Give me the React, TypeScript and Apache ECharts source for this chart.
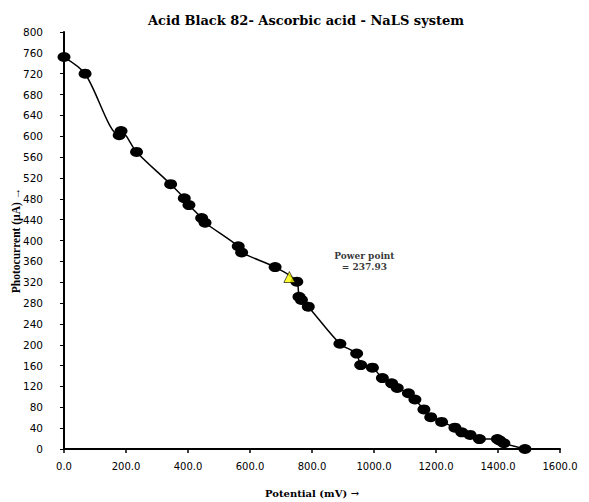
import React, { useEffect, useRef } from 'react';
import * as echarts from 'echarts';

const titleText = 'Acid Black 82- Ascorbic acid - NaLS system';
const xAxisName = 'Potential (mV) →';
const yAxisName = 'Photocurrent (µA) →';

const potential = [0, 68, 178, 184, 234, 344, 388, 403, 444, 455, 562, 573, 681, 751, 758, 766, 788, 890, 944, 957, 995, 1027, 1057, 1075, 1111, 1132, 1161, 1183, 1218, 1261, 1283, 1310, 1340, 1398, 1406, 1419, 1487];
const photocurrent = [752, 720, 602, 610, 570, 508, 481, 468, 443, 434, 389, 377, 349, 321, 292, 286, 273, 202, 183, 161, 156, 136, 126, 117, 107, 95, 76, 61, 52, 41, 32, 27, 19, 19, 16, 11, 0];

const powerPointPotential = 727;
const powerPointCurrent = 330;
const powerPointLabel = 'Power point\n= 237.93';

const xMin = 0;
const xMax = 1600;
const xInterval = 200;
const yMin = 0;
const yMax = 800;
const yInterval = 40;

export default function App() {
  const ref = useRef<HTMLDivElement>(null);
  useEffect(() => {
    const chart = echarts.init(ref.current!, null, { renderer: 'svg' });
    const points = potential.map((p, i) => [p, photocurrent[i]]);
    chart.setOption({
      animation: false,
      backgroundColor: '#ffffff',
      title: {
        text: titleText,
        left: 301,
        top: 9,
        textAlign: 'center',
        textStyle: { fontFamily: '"DejaVu Serif"', fontWeight: 'bold', fontSize: 13, color: '#000' },
      },
      grid: { left: 64, top: 32, right: 29, bottom: 53, containLabel: false, outerBoundsMode: 'none' },
      xAxis: {
        type: 'value',
        min: xMin,
        max: xMax,
        interval: xInterval,
        name: xAxisName,
        nameLocation: 'middle',
        nameGap: 39,
        nameMoveOverlap: false,
        nameTextStyle: { fontFamily: '"DejaVu Serif"', fontWeight: 'bold', fontSize: 10, color: '#000' },
        axisLine: { show: true, lineStyle: { color: '#000', width: 2 } },
        axisTick: { show: true, length: 4, lineStyle: { color: '#000', width: 1.5 } },
        axisLabel: {
          margin: 12,
          fontFamily: '"DejaVu Sans"',
          fontSize: 10,
          color: '#000',
          formatter: (v: number) => v.toFixed(1),
        },
        splitLine: { show: false },
      },
      yAxis: {
        type: 'value',
        min: yMin,
        max: yMax,
        interval: yInterval,
        name: yAxisName,
        nameLocation: 'middle',
        nameGap: 42,
        nameMoveOverlap: false,
        nameTextStyle: { fontFamily: '"Liberation Serif"', fontWeight: 'bold', fontSize: 11.5, color: '#000' },
        axisLine: { show: true, lineStyle: { color: '#000', width: 2 } },
        axisTick: { show: true, length: 4, lineStyle: { color: '#000', width: 1 } },
        axisLabel: { margin: 21, fontFamily: '"DejaVu Sans"', fontSize: 10.5, color: '#000' },
        splitLine: { show: false },
      },
      series: [
        {
          type: 'line',
          data: points,
          smooth: 0.3,
          symbol: 'circle',
          symbolSize: [13, 10],
          itemStyle: { color: '#000' },
          lineStyle: { color: '#000', width: 1.5 },
          z: 2,
        },
        {
          type: 'scatter',
          data: [[powerPointPotential, powerPointCurrent]],
          symbol: 'triangle',
          symbolSize: 11,
          itemStyle: { color: '#ffff00', borderColor: '#000', borderWidth: 0.8 },
          label: {
            show: true,
            formatter: powerPointLabel,
            position: 'inside',
            offset: [75, -15],
            fontFamily: '"DejaVu Serif"',
            fontWeight: 'bold',
            fontSize: 9,
            lineHeight: 11,
            color: '#000',
            align: 'center',
          },
          z: 3,
        },
      ],
    });
    return () => chart.dispose();
  }, []);
  return <div ref={ref} style={{ position: 'absolute', left: 0, top: 0, width: 589, height: 502 }} />;
}
